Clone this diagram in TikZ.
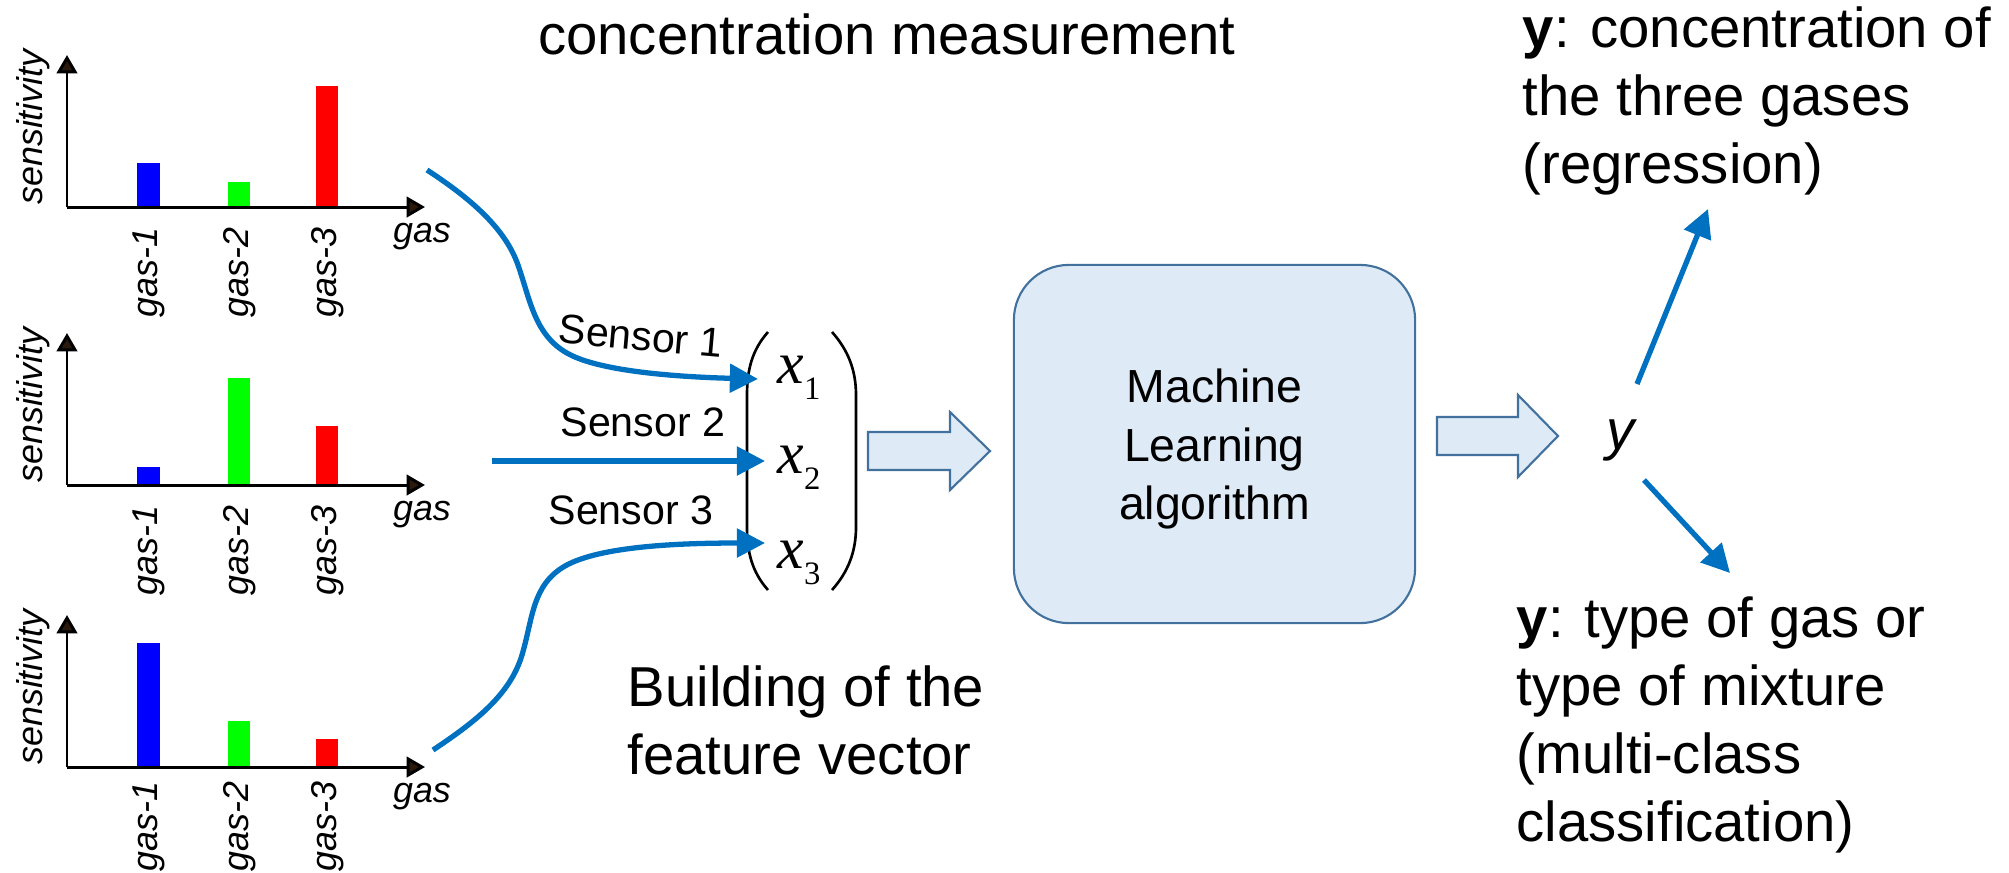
\documentclass[tikz,border=0pt]{standalone}
\usepackage{fontspec}
\setmainfont{Liberation Sans}
\newfontfamily\serifx{Liberation Serif}
\usetikzlibrary{arrows.meta}

\definecolor{linkblue}{HTML}{0070C0}
\definecolor{boxfill}{HTML}{DEEAF6}
\definecolor{boxline}{HTML}{41719C}
\definecolor{tipdark}{HTML}{2B1A0C}
\definecolor{barblue}{HTML}{0000FF}
\definecolor{bargreen}{HTML}{00FF00}
\definecolor{barred}{HTML}{FF0000}

\newcommand{\fsz}[2]{\fontsize{#1}{#2}\selectfont}
% feature component: italic x with an upright index
\newcommand{\xsub}[1]{{\serifx\itshape x}\raisebox{-4.8pt}{\serifx\fsz{9.3}{10}#1}}

% one sensitivity bar chart: name, axis baseline y, tops of the three bars,
% gap between the axis and the rotated gas names
\newcommand{\drawchart}[6]{%
  \coordinate (#1o) at (67,#2);
  \coordinate (#1ytip) at (67,#2-152);
  \coordinate (#1xtip) at (425,#2);
  \fill[barblue]  (137,#2) rectangle (160,#3);
  \fill[bargreen] (228,#2) rectangle (250,#4);
  \fill[barred]   (316,#2) rectangle (338,#5);
  \draw[axis] (#1o) -- (#1ytip);
  \draw[axis] (#1o) -- (#1xtip);
  \node[chartlbl, rotate=90] (#1sens) at (33,#2-80) {sensitivity};
  \node[chartlbl, anchor=base] (#1gas) at (422,#2+35) {gas};
  \node[chartlbl, rotate=90, anchor=east] (#1g1) at (149,#2+#6) {gas-1};
  \node[chartlbl, rotate=90, anchor=east] (#1g2) at (240,#2+#6) {gas-2};
  \node[chartlbl, rotate=90, anchor=east] (#1g3) at (328,#2+#6) {gas-3};
}

\begin{document}
\begin{tikzpicture}[x=0.01cm, y=-0.01cm,
  axis/.style={black, line width=0.85pt, -{Triangle[length=5.2pt,width=5.8pt,fill=tipdark]}},
  sensorarrow/.style={linkblue, line width=1.5pt, -{Triangle[length=8pt,width=8pt]}},
  blockarrow/.style={draw=boxline, fill=boxfill, line width=0.6pt, line join=miter},
  mlbox/.style={draw=boxline, fill=boxfill, line width=0.6pt, rounded corners=0.55cm,
    minimum width=4.01cm, minimum height=3.58cm},
  mltext/.style={align=center, font=\fsz{13.2}{16.5}, inner sep=0pt},
  paren/.style={black, line width=0.75pt},
  chartlbl/.style={font=\fsz{10.2}{12}\itshape, inner sep=0pt},
  sensorlbl/.style={font=\fsz{11.7}{14}, inner sep=0pt},
  bigtxt/.style={font=\fsz{16}{19.3}, inner sep=0pt, align=left},
  xvec/.style={font=\fsz{17}{20}, inner sep=0pt}
]
\useasboundingbox (0,0) rectangle (2009,872);

% three sensor response charts
\drawchart{c1}{207}{163}{182}{86}{20}
\drawchart{c2}{485}{467}{378}{426}{20}
\drawchart{c3}{767}{643}{721}{739}{14}

\node[font=\fsz{16}{19.3}, inner sep=0pt, anchor=base] (title) at (887,54) {concentration measurement};

% feature vector
\node[xvec, anchor=base west] (x1) at (777,383) {\xsub{1}};
\node[xvec, anchor=base west] (x2) at (777,473) {\xsub{2}};
\node[xvec, anchor=base west] (x3) at (777,568) {\xsub{3}};
\draw[paren] (768,332) .. controls (752,350) and (747,370) .. (747,395) -- (747,527)
  .. controls (747,552) and (752,572) .. (768,590);
\draw[paren] (832,332) .. controls (848,350) and (856,370) .. (856,395) -- (856,527)
  .. controls (856,552) and (848,572) .. (832,590);

% sensor links
\coordinate (s1) at (427,170);
\coordinate (s2) at (492,461);
\coordinate (s3) at (433,750);
\coordinate (t1) at (758,379);
\coordinate (t2) at (765,461);
\coordinate (t3) at (765,543);
\draw[sensorarrow] (s1) .. controls (470,198) and (505,228) .. (518,265)
  .. controls (531,302) and (535,340) .. (575,357)
  .. controls (610,372) and (680,377) .. (t1);
\draw[sensorarrow] (s2) -- (t2);
\draw[sensorarrow] (s3) .. controls (475,722) and (510,695) .. (522,655)
  .. controls (533,618) and (532,585) .. (565,566)
  .. controls (600,546) and (680,543) .. (t3);
\node[sensorlbl, rotate=-5] (l1) at (641,336) {Sensor 1};
\node[sensorlbl] (l2) at (643,422) {Sensor 2};
\node[sensorlbl] (l3) at (631,510) {Sensor 3};

\node[bigtxt, anchor=north west] (build) at (627,665) {Building of the\\feature vector};

% hollow arrows
\draw[blockarrow] (868,432) -- (950,432) -- (950,412) -- (990,451) -- (950,490) -- (950,470) -- (868,470) -- cycle;
\draw[blockarrow] (1437,417) -- (1518,417) -- (1518,395) -- (1558,436) -- (1518,477) -- (1518,455) -- (1437,455) -- cycle;

% learning block
\node[mlbox] (ml) at (1214.5,444) {};
\node[mltext] (mltxt) at ([yshift=-0.05cm]ml.center) {Machine\\Learning\\algorithm};

% output
\node[font=\fsz{16}{19}\itshape, inner sep=0pt] (yout) at (1621,440) {y};
\coordinate (u1) at (1637,384);
\coordinate (u2) at (1708,209);
\coordinate (d1) at (1644,480);
\coordinate (d2) at (1730,573);
\draw[sensorarrow] (u1) -- (u2);
\draw[sensorarrow] (d1) -- (d2);

\node[bigtxt, anchor=north west] (reg) at (1522,6) {\textbf{y}: concentration of\\the three gases\\(regression)};
\node[bigtxt, anchor=north west] (cls) at (1516,596) {\textbf{y}: type of gas or\\type of mixture\\(multi-class\\classification)};
\end{tikzpicture}
\end{document}
